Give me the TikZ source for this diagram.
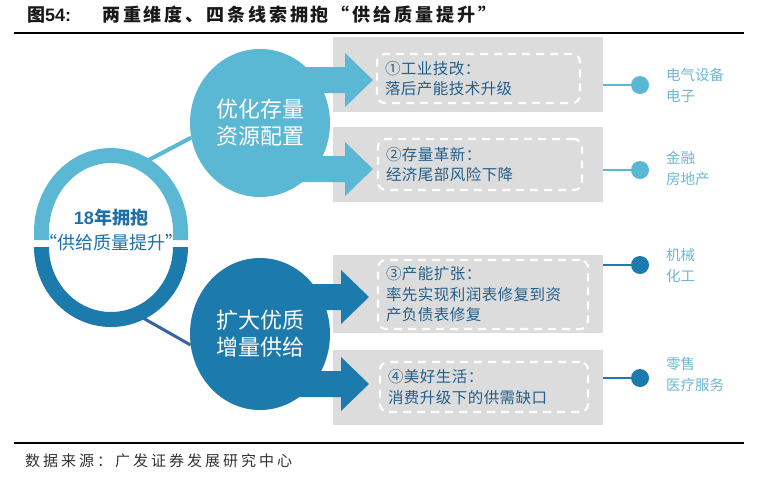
\documentclass[tikz,border=0pt]{standalone}
\usepackage{fontspec}
\setmainfont{Noto Sans CJK SC}
\newfontfamily\latinfont{Liberation Sans}
\usetikzlibrary{positioning}
\usetikzlibrary{backgrounds}
\usetikzlibrary{shapes.geometric}
\definecolor{skyblue}{HTML}{5BB8D5}
\definecolor{seablue}{HTML}{1C7BAC}
\definecolor{inkblue}{HTML}{24608C}
\definecolor{mottoblue}{HTML}{1F6FA8}
\definecolor{tagblue}{HTML}{6DB7D3}
\definecolor{boxgrey}{HTML}{DCDCDC}
\definecolor{linkblue}{HTML}{3862A0}
\newcommand\setfs[2]{\fontsize{#1}{#2}\selectfont}
\tikzset{
semithick, % All lines semithick
>=stealth,
heading/.style={anchor=west,inner sep=0pt,text=black!90,font={\setfs{18}{20}\bfseries\addfontfeature{LetterSpace=16}}},
credit/.style={anchor=west,inner sep=0pt,text=black!80,font={\setfs{15}{17}\addfontfeature{LetterSpace=20}}},
hrule/.style={draw=black,line width=1.2pt},
greybox/.style={fill=boxgrey,minimum width=270pt,inner sep=0pt},
dashbox/.style={draw=white,line width=2.2pt,dash pattern=on 8pt off 6pt,rounded corners=8pt,
  inner xsep=8pt,inner ysep=3pt,align=left,text=inkblue,font={\setfs{15.5}{20.5}\addfontfeature{LetterSpace=3}}},
bead/.style={circle,fill=#1,minimum size=18pt,inner sep=0pt},
stub/.style={draw=#1,line width=2pt},
sector/.style={anchor=west,align=left,inner sep=0pt,text=tagblue,font={\setfs{14.5}{21}}},
hub/.style={ellipse,fill=#1,text=white,inner sep=0pt,minimum width=140pt,align=center,font={\setfs{22}{27}}},
motto/.style={align=center,inner sep=0pt,text=mottoblue,font={\setfs{18}{25}}},
link/.style={draw=#1}
}

\begin{document}
\begin{tikzpicture}[x=1pt,y=-1pt]
\useasboundingbox (0,0) rectangle (758,479);

% heading and source
\node[heading] (fig) at (27,15) {图{\latinfont 54:}};
\node[heading] (caption) at (102,15) {两重维度、四条线索拥抱“供给质量提升”};
\draw[hrule] (14,33) -- (744,33);
\draw[hrule] (14,443) -- (744,443);
\node[credit] (src) at (25,461) {数据来源：广发证券发展研究中心};

% grey panels
\node[greybox,minimum height=75pt] (g1) at (468,74.5) {};
\node[greybox,minimum height=75pt,below=15pt of g1] (g2) {};
\node[greybox,minimum height=78pt] (g3) at (468,294) {};
\node[greybox,minimum height=75pt,below=17pt of g3] (g4) {};

\node[dashbox,text width=187pt,minimum height=49pt] (t1) at (478.5,78.5) {①工业技改：\\落后产能技术升级};
\node[dashbox,text width=188pt,minimum height=51pt] (t2) at (480,164.5) {②存量革新：\\经济尾部风险下降};
\node[dashbox,text width=194pt,minimum height=69pt] (t3) at (483,294.5) {③产能扩张：\\率先实现利润表修复到资\\产负债表修复};
\node[dashbox,text width=192pt,minimum height=50pt] (t4) at (484,387) {④美好生活：\\消费升级下的供需缺口};

% sectors on the right
\node[bead=skyblue] (d1) at (640,85) {};
\node[bead=skyblue] (d2) at (640,170) {};
\node[bead=seablue] (d3) at (640,265) {};
\node[bead=seablue] (d4) at (640,378) {};
\draw[stub=skyblue] (g1.east |- d1) -- (d1);
\draw[stub=skyblue] (g2.east |- d2) -- (d2);
\draw[stub=seablue] (g3.east |- d3) -- (d3);
\draw[stub=seablue] (g4.east |- d4) -- (d4);
\node[sector] (s1) at (666,85) {电气设备\\电子};
\node[sector] (s2) at (666,168) {金融\\房地产};
\node[sector] (s3) at (666,265) {机械\\化工};
\node[sector] (s4) at (666,374) {零售\\医疗服务};

% block arrows
\foreach \y/\tip/\col in {80/373/skyblue,169/373/skyblue,297/369/seablue,384/369/seablue}
  \fill[\col] (260,\y-13) -- (\tip-28,\y-13) -- (\tip-28,\y-27) -- (\tip,\y)
    -- (\tip-28,\y+27) -- (\tip-28,\y+13) -- (260,\y+13) -- cycle;

% split ring
\fill[skyblue] (34,240) -- (34,232) arc[start angle=180,end angle=360,x radius=77,y radius=84]
  -- (188,240) -- (173,240) -- (173,232) arc[start angle=360,end angle=180,x radius=62,y radius=69]
  -- (49,240) -- cycle;
\fill[seablue] (34,247) arc[start angle=180,end angle=0,x radius=77,y radius=80]
  -- (173,247) arc[start angle=0,end angle=180,x radius=62,y radius=65] -- cycle;
\coordinate (ringne) at (143,163);
\coordinate (ringse) at (136,314);
\node[motto] (core) at (111,230) {{\bfseries{\latinfont 18}年拥抱}\\“供给质量提升”};

% two dimensions
\node[hub=skyblue,minimum height=148pt] (opt) at (260,123) {优化存量\\资源配置};
\node[hub=seablue,minimum height=152pt] (exp) at (260,334) {扩大优质\\增量供给};

\begin{scope}[on background layer]
\draw[link=skyblue,line width=4pt] (ringne) -- (opt.192);
\draw[link=linkblue,line width=3pt] (ringse) -- (exp.189);
\end{scope}
\end{tikzpicture}
\end{document}
